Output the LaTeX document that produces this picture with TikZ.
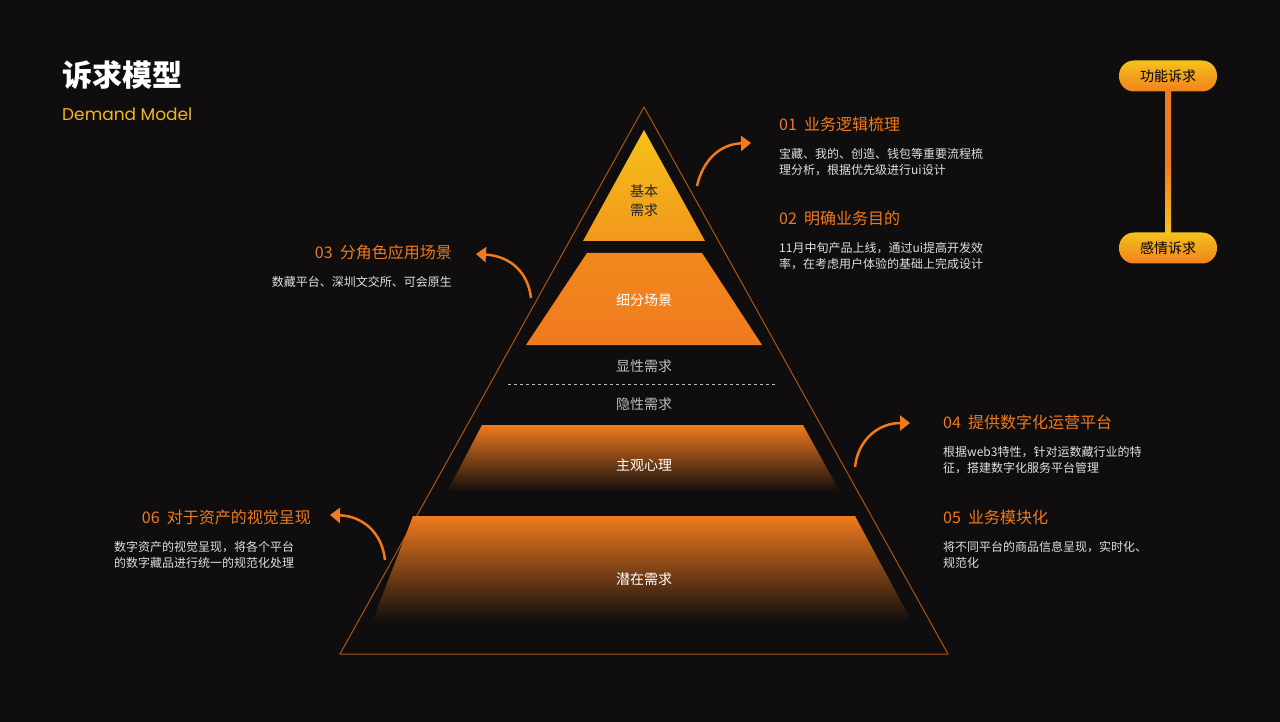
\documentclass[tikz,border=0pt]{standalone}
\usepackage{fontspec}
\setmainfont{Noto Sans CJK SC}
\newfontfamily\latfont{Poppins}
\usetikzlibrary{arrows.meta}
\definecolor{bg}{HTML}{0F0D0D}
\definecolor{org}{HTML}{F07A1E}
\definecolor{yel}{HTML}{F5C21A}
\definecolor{gtx}{HTML}{BDBDBD}
\definecolor{dk}{HTML}{0F0D0D}
\tikzset{
  head/.style={text=org,font=\fontsize{16}{18}\selectfont,anchor=west,inner sep=0},
  body/.style={text=white!88!black,font=\fontsize{12}{16.5}\selectfont,anchor=north west,inner sep=0,align=left},
  tier/.style={text=white,font=\fontsize{14}{16}\selectfont},
  curv/.style={org,line width=2.5pt,-{Triangle[length=10pt,width=15pt]}},
  pill/.style={draw=none,rounded corners=15pt,minimum width=98pt,minimum height=31pt,top color=yel,bottom color=org!90!yel,text=black,font=\fontsize{14}{16}\selectfont}
}
\begin{document}
\begin{tikzpicture}[x=1pt,y=-1pt]
\fill[bg] (0,0) rectangle (1280,722);
\useasboundingbox (0,0) rectangle (1280,722);
\node[text=white,font=\fontsize{30}{34}\selectfont\bfseries,anchor=west,inner sep=0] (title) at (62,75) {诉求模型};
\node[text=yel!80!org,font=\latfont\fontsize{17}{19}\selectfont,anchor=west,inner sep=0] (sub) at (62,114) {Demand Model};
\draw[org!70!black,line width=1pt] (644,107) -- (948,654) -- (340,654) -- cycle;
\shade[top color=yel,bottom color=org!60!yel] (644,130) -- (705,241) -- (583,241) -- cycle;
\shade[top color=org!80!yel,bottom color=org] (587,253) -- (702,253) -- (762,345) -- (526,345) -- cycle;
\shade[top color=org,bottom color=dk] (482,425) -- (803,425) -- (840,492) -- (447,492) -- cycle;
\shade[top color=org,bottom color=dk] (413,516) -- (855,516) -- (912,622) -- (372,622) -- cycle;
\node[tier,text=black!85,align=center,font=\fontsize{14}{19}\selectfont] (t1) at (644,201) {基本\\需求};
\node[tier] (t2) at (644,300) {细分场景};
\node[tier,text=gtx] (xs) at (644,366) {显性需求};
\draw[gtx,dashed,line width=0.6pt] (508,384) -- (778,384);
\node[tier,text=gtx] (ys) at (644,404) {隐性需求};
\node[tier] (t3) at (644,465) {主观心理};
\node[tier] (t4) at (644,579) {潜在需求};
\node[pill] (p1) at (1168,76) {功能诉求};
\node[pill] (p2) at (1168,248) {感情诉求};
\shade[top color=org,bottom color=yel,middle color=org] (1165,91) rectangle (1171,233);
\node[head] (h1) at (779,124) {01\ \ 业务逻辑梳理};
\node[body] (b1) at (779,148) {宝藏、我的、创造、钱包等重要流程梳\\理分析，根据优先级进行ui设计};
\node[head] (h2) at (779,218) {02\ \ 明确业务目的};
\node[body] (b2) at (779,242) {11月中旬产品上线，通过ui提高开发效\\率，在考虑用户体验的基础上完成设计};
\node[head] (h4) at (943,422) {04\ \ 提供数字化运营平台};
\node[body] (b4) at (943,446) {根据web3特性，针对运数藏行业的特\\征，搭建数字化服务平台管理};
\node[head] (h5) at (943,517) {05\ \ 业务模块化};
\node[body] (b5) at (943,541) {将不同平台的商品信息呈现，实时化、\\规范化};
\node[head,anchor=east] (h3) at (452,252) {03\ \ 分角色应用场景};
\node[body,anchor=north east,align=right] (b3) at (452,276) {数藏平台、深圳文交所、可会原生};
\node[head,anchor=east] (h6) at (311,517) {06\ \ 对于资产的视觉呈现};
\node[body,anchor=north west] (b6) at (114,541) {数字资产的视觉呈现，将各个平台\\的数字藏品进行统一的规范化处理};
\coordinate (a1s) at (697,186); \coordinate (a1e) at (751,143);
\draw[curv] (a1s) .. controls (703,160) and (720,144) .. (a1e);
\coordinate (a3s) at (531,298); \coordinate (a3e) at (476,254);
\draw[curv] (a3s) .. controls (528,272) and (510,256) .. (a3e);
\coordinate (a4s) at (855,467); \coordinate (a4e) at (910,423);
\draw[curv] (a4s) .. controls (858,440) and (878,423) .. (a4e);
\coordinate (a6s) at (385,560); \coordinate (a6e) at (330,515);
\draw[curv] (a6s) .. controls (382,532) and (362,516) .. (a6e);
\end{tikzpicture}
\end{document}
